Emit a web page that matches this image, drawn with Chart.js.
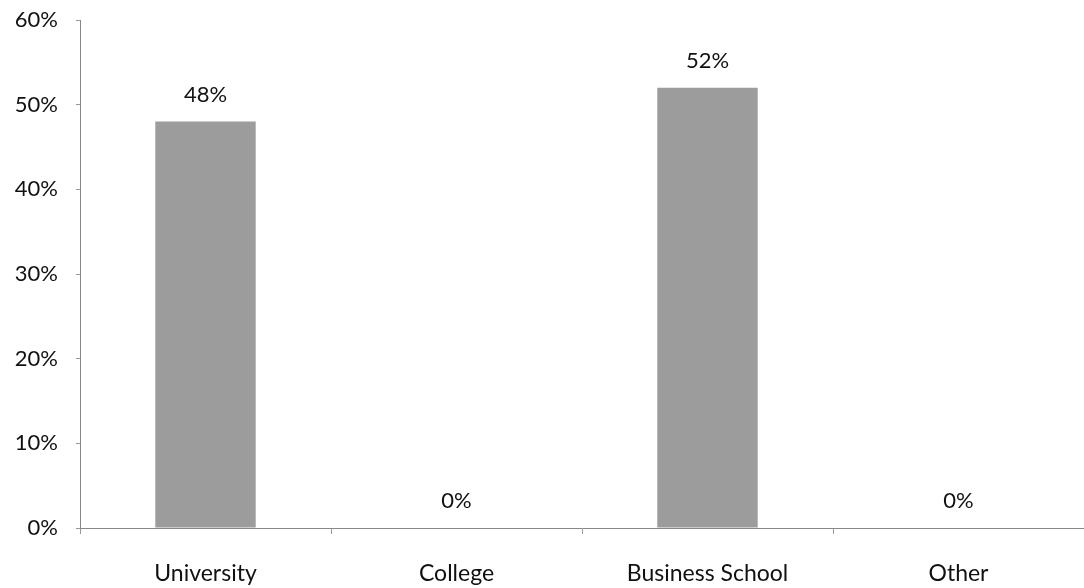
<!DOCTYPE html>
<html>
<head>
<meta charset="utf-8">
<script src="https://cdn.jsdelivr.net/npm/chart.js@4"></script>
<style>
  html, body { margin: 0; padding: 0; background: #fff; }
  #wrap { width: 1084px; height: 588px; position: relative; }
</style>
</head>
<body>
<div id="wrap"><canvas id="chart"></canvas></div>
<script>
const categories = ["University", "College", "Business School", "Other"];
const shares = [48, 0, 52, 0];
const yTicks = [0, 10, 20, 30, 40, 50, 60];

const FONT = "Lato, 'Open Sans', sans-serif";

// Percentage labels above each bar
const valueLabels = {
  id: "valueLabels",
  afterDatasetsDraw(chart) {
    const ctx = chart.ctx;
    const meta = chart.getDatasetMeta(0);
    ctx.save();
    ctx.fillStyle = "#111";
    ctx.font = "22px " + FONT;
    ctx.textAlign = "center";
    ctx.textBaseline = "middle";
    meta.data.forEach((bar, i) => {
      ctx.fillText(shares[i] + "%", bar.x, bar.y - 27);
    });
    ctx.restore();
  }
};

new Chart(document.getElementById("chart"), {
  type: "bar",
  data: {
    labels: categories,
    datasets: [{
      data: shares,
      backgroundColor: "#9c9c9c",
      borderWidth: 0,
      categoryPercentage: 0.4,
      barPercentage: 1.0
    }]
  },
  options: {
    responsive: true,
    maintainAspectRatio: false,
    animation: false,
    devicePixelRatio: 1,
    layout: { padding: { top: 20, right: 0, left: 0, bottom: 0 } },
    plugins: { legend: { display: false }, tooltip: { enabled: false } },
    scales: {
      x: {
        offset: true,
        grid: {
          display: true,
          drawOnChartArea: false,
          drawTicks: true,
          tickLength: 6,
          color: "#999",
          offset: true
        },
        border: { display: true, color: "#888", width: 1 },
        ticks: {
          color: "#111",
          font: { family: FONT, size: 23 },
          padding: 26
        },
        afterFit(scale) { scale.height = 60; }
      },
      y: {
        min: 0,
        max: 60,
        afterBuildTicks(scale) { scale.ticks = yTicks.map(v => ({ value: v })); },
        grid: {
          display: true,
          drawOnChartArea: false,
          drawTicks: true,
          tickLength: 4,
          color: "#999"
        },
        border: { display: true, color: "#888", width: 1 },
        ticks: {
          color: "#111",
          font: { family: FONT, size: 22 },
          padding: 18,
          callback: v => v + "%"
        },
        afterFit(scale) {
          scale.width = 80;
          scale.paddingTop = 0;
          scale.paddingBottom = 0;
        }
      }
    }
  },
  plugins: [valueLabels]
});
</script>
</body>
</html>
